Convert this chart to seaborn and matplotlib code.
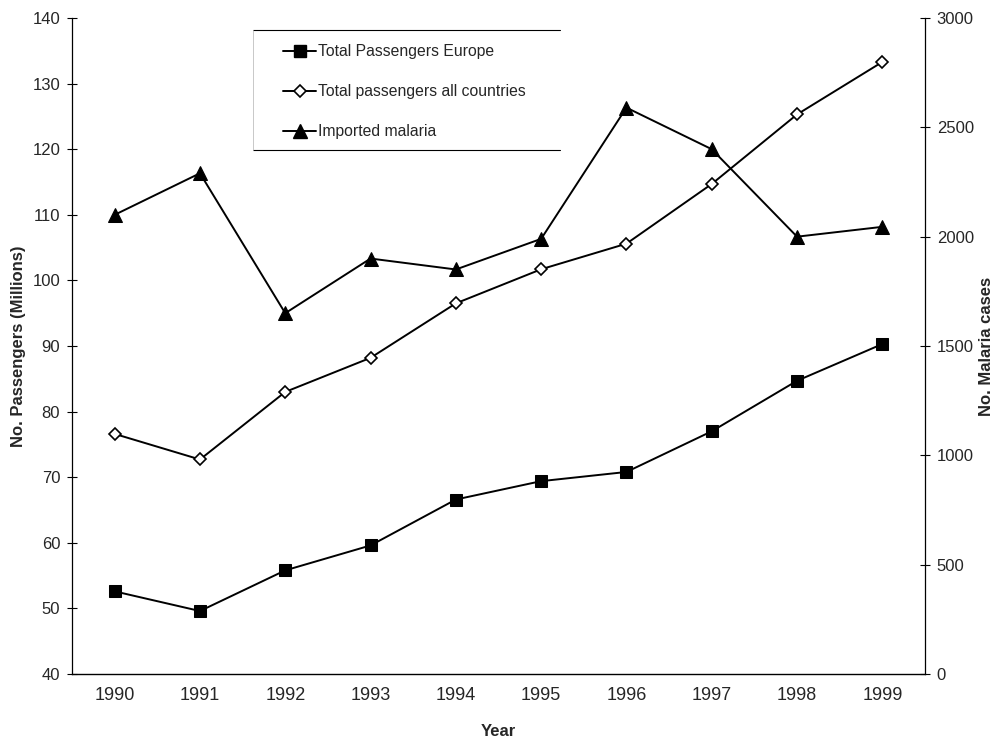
"""
Air passengers vs imported malaria, 1990-1999.
Two y axes: passengers (millions) on the left, malaria cases on the right.
"""

import pandas as pd
import matplotlib
matplotlib.use("Agg")
import matplotlib.pyplot as plt
from matplotlib.lines import Line2D
import seaborn as sns

years = [1990, 1991, 1992, 1993, 1994, 1995, 1996, 1997, 1998, 1999]
europe = [52.6, 49.6, 55.8, 59.6, 66.6, 69.4, 70.8, 77.0, 84.7, 90.3]
all_countries = [76.6, 72.7, 83.0, 88.2, 96.5, 101.7, 105.6, 114.7, 125.3, 133.3]
malaria = [2100, 2290, 1650, 1900, 1850, 1990, 2590, 2400, 2000, 2045]

left_ticks = [40, 50, 60, 70, 80, 90, 100, 110, 120, 130, 140]
right_ticks = [0, 500, 1000, 1500, 2000, 2500, 3000]
series_names = ["Total Passengers Europe", "Total passengers all countries",
                "Imported malaria"]

sns.set_style("white")
plt.rcParams["font.family"] = ["Liberation Sans", "DejaVu Sans"]

df = pd.DataFrame({"year": years, "europe": europe,
                   "all": all_countries, "malaria": malaria})

fig = plt.figure(figsize=(9.96, 7.41), dpi=100)
ax = fig.add_axes([0.0723, 0.0904, 0.8564, 0.8853])
ax2 = ax.twinx()

line_kw = dict(color="black", linewidth=1.4, legend=False)
sns.lineplot(data=df, x="year", y="europe", ax=ax, marker="s", markersize=8.2,
             markerfacecolor="black", markeredgecolor="black", **line_kw)
sns.lineplot(data=df, x="year", y="all", ax=ax, marker="D", markersize=6.5,
             markerfacecolor="white", markeredgecolor="black",
             markeredgewidth=1.2, **line_kw)
sns.lineplot(data=df, x="year", y="malaria", ax=ax2, marker="^", markersize=10,
             markerfacecolor="black", markeredgecolor="black", **line_kw)

# left axis
ax.set_ylim(40, 140)
ax.set_yticks(left_ticks)
ax.set_ylabel("No. Passengers (Millions)", fontsize=12, fontweight="bold")
ax.yaxis.set_label_coords(-0.054, 0.5)

# right axis
ax2.set_ylim(0, 3000)
ax2.set_yticks(right_ticks)
ax2.set_ylabel("No. Malaria cases", fontsize=12, fontweight="bold")
ax2.yaxis.set_label_coords(1.063, 0.5)

# x axis: ticks between categories, labels in the middle
ax.set_xlim(years[0] - 0.5, years[-1] + 0.5)
ax.set_xticks([y - 0.5 for y in years] + [years[-1] + 0.5])
ax.set_xticklabels([])
ax.set_xticks(years, minor=True)
ax.set_xticklabels([str(y) for y in years], minor=True)
ax.set_xlabel("Year", fontsize=12, fontweight="bold")
ax.xaxis.set_label_coords(0.5, -0.076)

ax.tick_params(axis="x", which="major", direction="inout", length=7,
               width=0.8, color="black")
ax.tick_params(axis="x", which="minor", length=0, labelsize=13, pad=9)
ax.tick_params(axis="y", direction="inout", length=7, width=0.8,
               color="black", labelsize=12, pad=5, left=True)
ax2.tick_params(axis="y", direction="inout", length=7, width=0.8,
                color="black", labelsize=12, pad=5, right=True)

ax.spines["top"].set_visible(False)
ax.spines["right"].set_visible(False)
ax2.spines["top"].set_visible(False)
ax2.spines["left"].set_visible(False)
ax2.spines["bottom"].set_visible(False)
ax.spines["left"].set_color("black")
ax.spines["bottom"].set_color("black")
ax2.spines["right"].set_color("black")
ax.spines["left"].set_linewidth(0.9)
ax.spines["bottom"].set_linewidth(1.0)
ax2.spines["right"].set_linewidth(0.9)

# legend (frameless, with only top/bottom rules like the original)
handles = [
    Line2D([], [], color="black", linewidth=1.4, marker="s", markersize=8.2,
           markerfacecolor="black"),
    Line2D([], [], color="black", linewidth=1.4, marker="D", markersize=6.5,
           markerfacecolor="white", markeredgewidth=1.2),
    Line2D([], [], color="black", linewidth=1.4, marker="^", markersize=10,
           markerfacecolor="black"),
]
ax2.legend(handles, series_names, loc="upper left",
           bbox_to_anchor=(0.2474, 0.960), frameon=False, fontsize=11.3,
           handlelength=2.1, handletextpad=0.15, labelspacing=1.6,
           borderpad=0, borderaxespad=0)
box_x0, box_x1 = 0.2122, 0.5721
box_top, box_bottom = 0.9817, 0.7988
ax2.plot([box_x0, box_x1], [box_top, box_top], color="black", linewidth=0.8,
         transform=ax2.transAxes, clip_on=False)
ax2.plot([box_x0, box_x1], [box_bottom, box_bottom], color="black",
         linewidth=0.8, transform=ax2.transAxes, clip_on=False)
ax2.plot([box_x0, box_x0], [box_bottom, box_top], color="0.75",
         linewidth=0.6, transform=ax2.transAxes, clip_on=False)

fig.savefig("out.png", dpi=100)
